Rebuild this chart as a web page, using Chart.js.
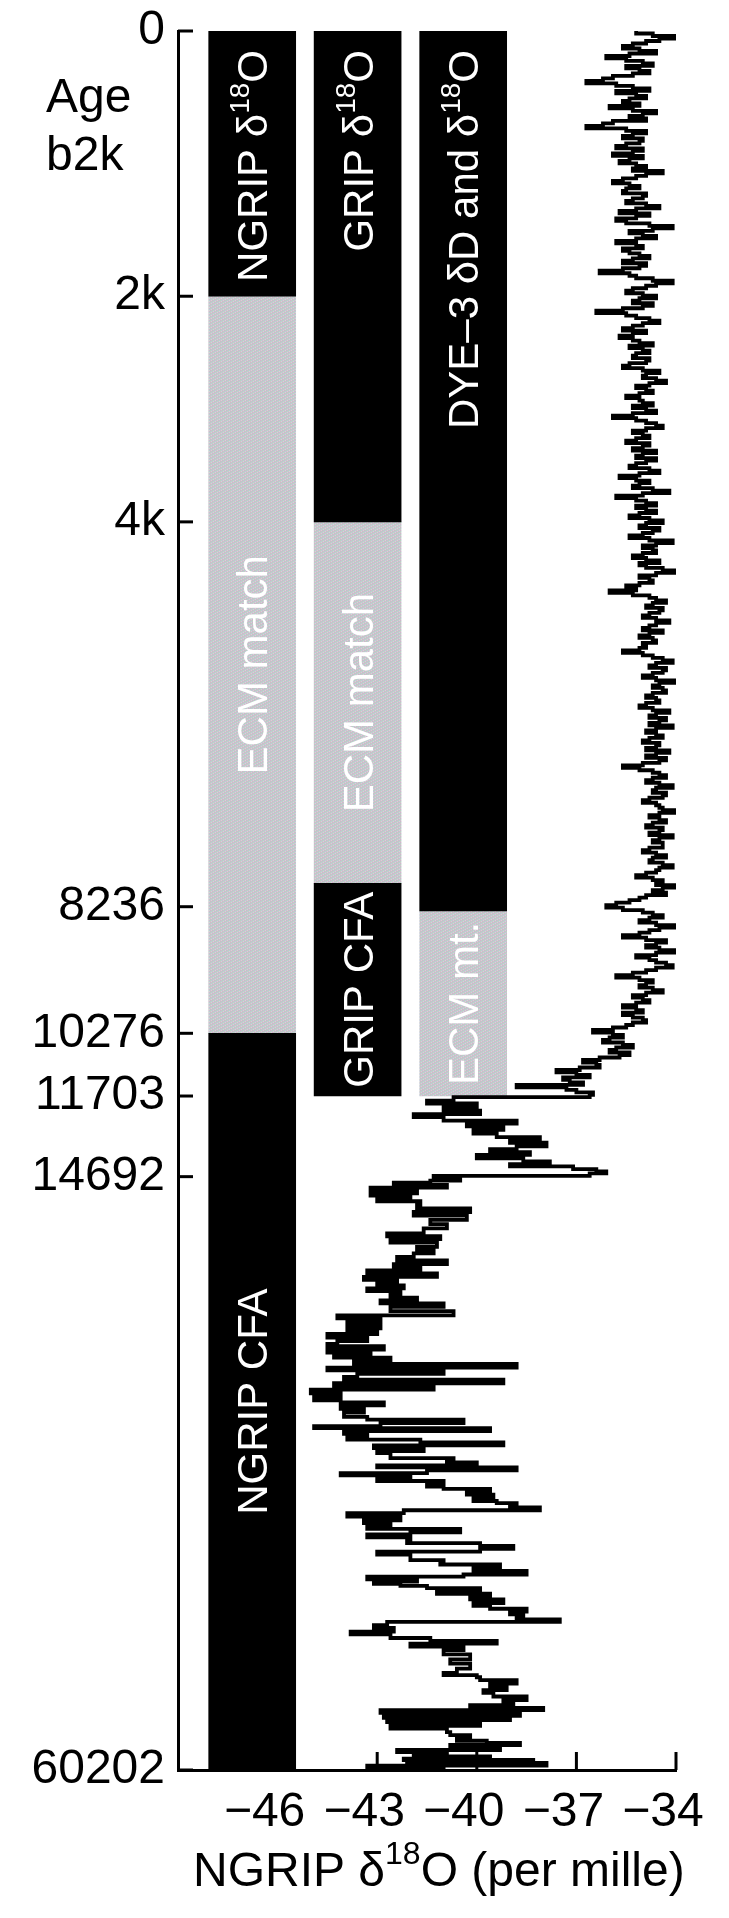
<!DOCTYPE html>
<html><head><meta charset="utf-8">
<script src="https://cdn.jsdelivr.net/npm/chart.js@4.4.1/dist/chart.umd.min.js"></script>
<style>html,body{margin:0;padding:0;background:#fff;}#wrap{width:729px;height:1918px;position:relative;}</style>
</head><body><div id="wrap"><canvas id="c"></canvas></div>
<script>
// ---------- DATA ----------
// Age tick labels (years b2k) and the NGRIP depth (m) where each sits on the depth axis
const ageTickLabels = ['0','2k','4k','8236','10276','11703','14692','60202'];
const ageTickDepths = [0, 371.7, 687.9, 1227.2, 1404.6, 1492.5, 1605.5, 2437];
const xTickValues = [-46, -43, -40, -37, -34];
const xTickLabels = ['\u221246','\u221243','\u221240','\u221237','\u221234'];

// Core columns
const coreNames = ['NGRIP','GRIP','DYE-3'];
const coreX = [-46.765, -43.59, -40.41];
// Column segments (depth ranges, m)
const segCore   = [0, 0, 0, 1, 1, 1, 2, 2];
const segTop    = [0, 371.7, 1404.6, 0, 687.9, 1194.5, 0, 1233];
const segBottom = [371.7, 1404.6, 2437, 687.9, 1194.5, 1492.5, 1233, 1492.5];
const segKind   = ['core','ecm','core','core','ecm','core','core','ecm'];
const segText   = ['NGRIP \u03b4^{18}O','ECM match','NGRIP CFA','GRIP \u03b4^{18}O','ECM match','GRIP CFA','DYE\u20133 \u03b4D and \u03b4^{18}O','ECM mt.'];
const segAnchor = ['top','center','center','top','center','center','top','center'];

// NGRIP d18O trace: Holocene part (samples on whole 7 m marks)
const holoDepth = [0,7,14,21,28,35,42,49,56,63,
70,77,84,91,98,105,112,119,126,133,
140,147,154,161,168,175,182,189,196,203,
210,217,224,231,238,245,252,259,266,273,
280,287,294,301,308,315,322,329,336,343,
350,357,364,371,378,385,392,399,406,413,
420,427,434,441,448,455,462,469,476,483,
490,497,504,511,518,525,532,539,546,553,
560,567,574,581,588,595,602,609,616,623,
630,637,644,651,658,665,672,679,686,693,
700,707,714,721,728,735,742,749,756,763,
770,777,784,791,798,805,812,819,826,833,
840,847,854,861,868,875,882,889,896,903,
910,917,924,931,938,945,952,959,966,973,
980,987,994,1001,1008,1015,1022,1029,1036,1043,
1050,1057,1064,1071,1078,1085,1092,1099,1106,1113,
1120,1127,1134,1141,1148,1155,1162,1169,1176,1183,
1190,1197,1204,1211,1218,1225,1232,1239,1246,1253,
1260,1267,1274,1281,1288,1295,1302,1309,1316,1323,
1330,1337,1344,1351,1358,1365,1372,1379,1386,1393,
1400,1407,1414,1421,1428,1435,1442,1449,1456,1463,
1470,1477,1484,1491];
const holoD18O = [-35.2,-34.0,-34.9,-35.6,-34.6,-36.1,-35.0,-35.5,-34.8,-35.9,
-36.7,-35.3,-35.8,-34.9,-35.6,-36.0,-34.6,-35.4,-35.9,-36.7,
-34.9,-35.6,-35.1,-35.8,-35.3,-35.0,-35.7,-34.9,-34.4,-35.2,
-35.9,-35.1,-35.6,-35.0,-35.5,-34.5,-35.7,-35.2,-35.5,-34.1,
-35.4,-34.6,-35.8,-35.0,-35.4,-34.8,-35.6,-35.1,-36.3,-35.2,
-34.1,-34.9,-35.5,-34.6,-35.3,-35.0,-36.4,-35.2,-34.5,-35.3,
-34.9,-35.7,-35.1,-35.4,-34.8,-35.3,-34.9,-35.6,-34.5,-35.0,
-34.3,-35.2,-34.7,-35.5,-35.0,-35.3,-34.6,-35.9,-34.9,-34.4,
-35.3,-34.8,-35.5,-35.0,-34.6,-35.2,-34.9,-35.4,-34.5,-35.7,
-34.8,-35.3,-34.2,-35.8,-34.9,-35.2,-34.6,-35.4,-34.4,-35.1,
-34.7,-35.4,-34.1,-35.0,-34.6,-35.3,-34.5,-34.9,-34.0,-35.1,
-34.7,-35.5,-36.0,-34.8,-34.3,-34.9,-34.5,-35.0,-34.2,-34.8,
-34.4,-35.1,-34.6,-34.9,-35.6,-34.7,-34.1,-34.8,-34.4,-35.0,
-34.0,-34.7,-34.3,-34.9,-34.5,-35.1,-34.2,-34.8,-34.5,-34.1,
-34.9,-34.4,-35.0,-34.6,-34.2,-34.9,-34.5,-35.6,-34.7,-34.3,
-34.9,-34.1,-34.7,-34.4,-35.0,-34.5,-34.0,-34.8,-34.3,-34.9,
-34.5,-34.1,-34.7,-34.4,-35.0,-34.3,-34.8,-34.1,-34.6,-35.2,
-34.4,-34.0,-34.7,-34.9,-35.4,-36.1,-35.0,-34.4,-35.1,-34.0,
-34.8,-35.6,-34.3,-34.9,-34.0,-35.2,-34.6,-34.1,-34.9,-35.8,
-34.7,-35.1,-34.4,-35.3,-34.8,-35.6,-35.0,-35.3,-34.9,-35.5,
-36.5,-35.6,-36.2,-35.3,-36.0,-35.7,-36.8,-36.3,-37.6,-36.6,
-37.2,-38.8,-37.0,-36.6];
// Holocene part (samples on the half-way 3.5 m marks)
const holoMidDepth = [3.5,10.5,17.5,24.5,31.5,38.5,45.5,52.5,59.5,66.5,
73.5,80.5,87.5,94.5,101.5,108.5,115.5,122.5,129.5,136.5,
143.5,150.5,157.5,164.5,171.5,178.5,185.5,192.5,199.5,206.5,
213.5,220.5,227.5,234.5,241.5,248.5,255.5,262.5,269.5,276.5,
283.5,290.5,297.5,304.5,311.5,318.5,325.5,332.5,339.5,346.5,
353.5,360.5,367.5,374.5,381.5,388.5,395.5,402.5,409.5,416.5,
423.5,430.5,437.5,444.5,451.5,458.5,465.5,472.5,479.5,486.5,
493.5,500.5,507.5,514.5,521.5,528.5,535.5,542.5,549.5,556.5,
563.5,570.5,577.5,584.5,591.5,598.5,605.5,612.5,619.5,626.5,
633.5,640.5,647.5,654.5,661.5,668.5,675.5,682.5,689.5,696.5,
703.5,710.5,717.5,724.5,731.5,738.5,745.5,752.5,759.5,766.5,
773.5,780.5,787.5,794.5,801.5,808.5,815.5,822.5,829.5,836.5,
843.5,850.5,857.5,864.5,871.5,878.5,885.5,892.5,899.5,906.5,
913.5,920.5,927.5,934.5,941.5,948.5,955.5,962.5,969.5,976.5,
983.5,990.5,997.5,1004.5,1011.5,1018.5,1025.5,1032.5,1039.5,1046.5,
1053.5,1060.5,1067.5,1074.5,1081.5,1088.5,1095.5,1102.5,1109.5,1116.5,
1123.5,1130.5,1137.5,1144.5,1151.5,1158.5,1165.5,1172.5,1179.5,1186.5,
1193.5,1200.5,1207.5,1214.5,1221.5,1228.5,1235.5,1242.5,1249.5,1256.5,
1263.5,1270.5,1277.5,1284.5,1291.5,1298.5,1305.5,1312.5,1319.5,1326.5,
1333.5,1340.5,1347.5,1354.5,1361.5,1368.5,1375.5,1382.5,1389.5,1396.5,
1403.5,1410.5,1417.5,1424.5,1431.5,1438.5,1445.5,1452.5,1459.5,1466.5,
1473.5,1480.5,1487.5];
const holoMidD18O = [-34.7,-34.5,-35.3,-35.1,-35.4,-35.5,-34.7,-35.1,-35.3,-36.2,
-35.8,-34.8,-35.2,-35.4,-35.1,-35.3,-35.0,-34.9,-36.2,-35.5,
-35.3,-35.0,-35.5,-35.0,-35.9,-35.4,-35.2,-35.3,-34.9,-35.6,
-35.4,-35.5,-34.9,-35.3,-34.9,-35.2,-34.8,-35.8,-34.8,-34.7,
-35.0,-35.2,-35.2,-35.6,-35.1,-35.3,-34.9,-35.6,-35.4,-34.7,
-34.6,-35.3,-35.0,-35.1,-34.7,-35.6,-35.5,-34.8,-35.0,-35.6,
-35.3,-35.3,-34.7,-35.0,-35.2,-34.8,-35.4,-35.0,-34.9,-34.6,
-34.8,-34.9,-35.1,-35.1,-34.7,-34.9,-35.3,-35.2,-34.6,-34.9,
-35.0,-35.2,-34.8,-35.3,-35.0,-34.6,-35.2,-34.8,-35.1,-35.2,
-35.1,-34.7,-35.0,-35.2,-34.6,-34.9,-35.1,-34.8,-34.9,-34.5,
-35.0,-34.8,-34.6,-34.7,-35.0,-34.9,-35.1,-34.4,-34.6,-34.8,
-35.1,-35.2,-35.3,-34.6,-34.7,-34.4,-34.8,-34.6,-34.6,-35.0,
-34.8,-34.7,-35.0,-35.1,-35.0,-34.4,-34.6,-34.3,-34.7,-34.6,
-34.5,-34.4,-34.7,-34.6,-34.9,-34.7,-34.6,-34.3,-34.8,-34.6,
-34.6,-34.8,-34.5,-34.9,-34.6,-34.3,-35.0,-35.1,-34.5,-34.7,
-34.5,-34.6,-34.3,-34.8,-34.6,-34.4,-34.5,-34.5,-34.7,-34.4,
-34.8,-34.5,-34.4,-34.8,-34.6,-34.7,-34.4,-34.5,-34.9,-34.7,
-34.6,-34.4,-34.3,-35.1,-35.8,-35.6,-34.7,-34.8,-34.6,-34.5,
-35.1,-34.9,-34.6,-34.5,-34.6,-34.8,-34.3,-34.6,-35.3,-35.1,
-34.9,-34.7,-34.9,-35.0,-35.2,-35.2,-35.6,-35.0,-35.3,-35.9,
-35.9,-36.0,-35.6,-35.8,-35.4,-36.3,-36.4,-36.9,-37.0,-37.4,
-36.8,-37.3,-36.5];

// NGRIP d18O trace: Late glacial and glacial part
const glacDepth = [1494,1499,1503,1508,1513,1518,1522,1527,1531,1535,
1540,1545,1550,1554,1558,1563,1567,1571,1575,1580,
1584,1588,1591,1595,1598,1601,1604.5,1607,1611,1614,
1617,1621,1625,1629,1632,1636,1640,1645,1650,1655,
1660,1666,1672,1678,1685,1689,1693,1698,1704,1709,
1713,1718,1723,1728,1732,1737,1741,1746,1750,1754,
1758,1762,1766,1771,1775,1779,1783,1788,1794,1800,
1804,1808,1813,1818,1822,1826,1831,1836,1840,1843,
1848,1852,1855,1859,1864,1868,1873,1877,1882,1886,
1890,1895,1899,1904,1909,1914,1919,1922,1926,1931,
1936,1942,1946,1951,1955,1958,1962,1966,1970,1974,
1978,1982,1986,1990,1993,1996,2000,2003,2006,2010,
2013,2017,2021,2024,2028,2032,2036,2040,2043,2047,
2051,2056,2060,2063,2066,2069,2073,2077,2082,2087,
2091,2095,2099,2104,2107,2111,2115,2119,2123,2127,
2131,2135,2139,2143,2146,2149,2153,2158,2163,2166,
2170,2173,2176,2179,2182,2186,2190,2194,2198,2203,
2207,2211,2215,2219,2222,2226,2229.5,2234,2238,2243,
2247,2252,2256,2260,2264,2269,2275,2282,2288,2295,
2301,2304,2307,2311,2316,2320,2325,2329,2334,2339,
2343,2346,2350,2353,2357,2361,2364,2367,2370,2375,
2379,2384,2388,2392,2396,2399,2402,2405,2409,2412,
2415,2418,2421,2423,2425,2427,2431,2434,2437];
const glacD18O = [-40.7,-41.5,-40.0,-41.0,-39.9,-41.9,-41.0,-38.8,-40.3,-39.2,
-40.1,-39.4,-38.1,-39.0,-37.9,-38.8,-39.6,-38.4,-40.0,-38.6,
-37.8,-39.0,-37.1,-36.4,-36.1,-36.6,-41.3,-40.5,-41.4,-42.5,
-40.9,-43.2,-41.8,-43.2,-42.0,-43.0,-41.7,-41.8,-40.2,-41.9,
-40.3,-41.4,-40.9,-41.6,-42.7,-41.1,-42.6,-41.2,-41.8,-41.3,
-41.9,-42.4,-40.9,-42.5,-41.7,-43.3,-41.2,-43.4,-42.4,-43.0,
-42.2,-43.3,-42.3,-42.6,-41.8,-42.9,-41.0,-42.6,-40.7,-44.2,
-42.9,-43.9,-42.9,-43.9,-43.0,-44.5,-43.3,-44.2,-44.5,-42.8,
-44.5,-43.2,-44.3,-42.6,-43.7,-38.8,-44.5,-41.0,-43.6,-44.0,
-39.2,-44.3,-41.3,-45.0,-44.1,-44.9,-44.1,-42.8,-44.1,-43.4,
-44.0,-43.3,-40.4,-42.9,-44.9,-39.6,-44.0,-43.3,-43.9,-41.7,
-39.2,-43.1,-41.6,-43.0,-42.6,-42.6,-40.7,-40.9,-40.0,-43.0,
-38.8,-41.5,-44.1,-42.0,-43.0,-41.0,-41.5,-41.0,-39.6,-40.3,
-39.5,-40.1,-39.4,-38.8,-39.0,-38.1,-42.2,-43.9,-42.3,-43.4,
-42.6,-43.3,-40.5,-42.0,-43.3,-42.0,-42.1,-39.9,-38.9,-39.9,
-43.0,-42.0,-42.0,-41.0,-41.1,-39.3,-40.1,-38.5,-40.4,-43.3,
-41.8,-43.1,-42.3,-41.5,-39.9,-41.2,-39.6,-40.2,-39.2,-40.1,
-39.6,-38.5,-39.0,-38.6,-38.8,-37.5,-42.7,-43.1,-42.5,-43.8,
-42.6,-41.4,-39.4,-42.0,-40.4,-41.0,-40.2,-40.8,-40.2,-40.6,
-41.0,-40.0,-39.9,-38.8,-39.6,-39.1,-39.8,-39.5,-38.5,-39.2,
-38.9,-40.2,-38.0,-42.9,-38.7,-42.8,-39.0,-42.7,-39.9,-42.6,
-40.9,-40.8,-40.2,-40.6,-39.7,-38.7,-40.8,-39.3,-42.4,-40.9,
-41.9,-39.6,-42.2,-38.3,-42.1,-37.9,-43.3,-41.0,-41.0];

// ---------- RENDER ----------
const FONT = '"Liberation Sans", Arial, Helvetica, sans-serif';
const canvas = document.getElementById('c');
const ctx0 = canvas.getContext('2d');

function makeEcmPattern() {
  const t = document.createElement('canvas'); t.width = 6; t.height = 6;
  const g = t.getContext('2d');
  const cols = ['#c9c9c9','#d5d5d5','#d2afd2','#c6c6c6','#b9d5be','#bcc6dc'];
  for (let yy = 0; yy < 6; yy++) for (let xx = 0; xx < 6; xx++) {
    g.fillStyle = cols[(xx + 2 * yy) % 6]; g.fillRect(xx, yy, 1, 1);
  }
  return ctx0.createPattern(t, 'repeat');
}
const ecmPattern = makeEcmPattern();

const trace = [];
holoDepth.forEach((d, i) => trace.push({x: holoD18O[i], y: d}));
holoMidDepth.forEach((d, i) => trace.push({x: holoMidD18O[i], y: d}));
glacDepth.forEach((d, i) => trace.push({x: glacD18O[i], y: d}));
trace.sort((a, b) => a.y - b.y);

const coreBars = [], ecmBars = [];
segKind.forEach((k, i) => {
  const p = {x: coreX[segCore[i]], y: [segTop[i], segBottom[i]]};
  (k === 'core' ? coreBars : ecmBars).push(p);
});

function parseRich(s) {
  const parts = []; const re = /\^\{([^}]*)\}/g; let last = 0, m;
  while ((m = re.exec(s))) {
    if (m.index > last) parts.push({t: s.slice(last, m.index), sup: false});
    parts.push({t: m[1], sup: true}); last = re.lastIndex;
  }
  if (last < s.length) parts.push({t: s.slice(last), sup: false});
  return parts;
}
function richWidth(ctx, parts, size, supSize) {
  let w = 0;
  for (const p of parts) { ctx.font = (p.sup ? supSize : size) + 'px ' + FONT; w += ctx.measureText(p.t).width; }
  return w;
}
function drawRich(ctx, parts, x, y, size, supSize, raise) {
  let cx = x; ctx.textBaseline = 'alphabetic'; ctx.textAlign = 'left';
  for (const p of parts) {
    ctx.font = (p.sup ? supSize : size) + 'px ' + FONT;
    ctx.fillText(p.t, cx, p.sup ? y - raise : y);
    cx += ctx.measureText(p.t).width;
  }
}

const decorPlugin = {
  id: 'decor',
  afterDraw(chart) {
    const {ctx, chartArea: ca, scales: {x, y}} = chart;
    ctx.save();
    // inward tick marks
    ctx.strokeStyle = '#000'; ctx.lineWidth = 3; ctx.lineCap = 'butt';
    y.ticks.forEach(t => {
      const py = y.getPixelForValue(t.value);
      ctx.beginPath(); ctx.moveTo(ca.left, py); ctx.lineTo(ca.left + 15, py); ctx.stroke();
    });
    x.ticks.forEach(t => {
      const px = x.getPixelForValue(t.value);
      ctx.beginPath(); ctx.moveTo(px, ca.bottom); ctx.lineTo(px, ca.bottom - 18); ctx.stroke();
    });
    // column labels (rotated, white)
    ctx.fillStyle = '#fff';
    const size = 42, sup = 28, raise = 18, capH = 0.716 * size;
    segText.forEach((txt, i) => {
      const parts = parseRich(txt);
      const w = richWidth(ctx, parts, size, sup);
      const cx = x.getPixelForValue(coreX[segCore[i]]);
      const top = y.getPixelForValue(segTop[i]);
      const bot = y.getPixelForValue(segBottom[i]);
      ctx.save();
      if (segAnchor[i] === 'top') {
        ctx.translate(cx, top + 19); ctx.rotate(-Math.PI / 2);
        drawRich(ctx, parts, -w, capH / 2, size, sup, raise);
      } else {
        ctx.translate(cx, (top + bot) / 2); ctx.rotate(-Math.PI / 2);
        drawRich(ctx, parts, -w / 2, capH / 2, size, sup, raise);
      }
      ctx.restore();
    });
    // axis titles
    ctx.fillStyle = '#000';
    drawRich(ctx, parseRich('NGRIP \u03b4^{18}O (per mille)'), ca.left + 15, ca.bottom + 116, 48, 32, 22);
    ctx.font = '48px ' + FONT; ctx.textAlign = 'left'; ctx.textBaseline = 'alphabetic';
    ctx.fillText('Age', 46, ca.top + 81);
    ctx.fillText('b2k', 46, ca.top + 139);
    ctx.restore();
  }
};

new Chart(canvas, {
  type: 'line',
  data: {
    datasets: [
      {type: 'line', data: trace, borderColor: '#000', borderWidth: 3.8, pointRadius: 0,
       stepped: 'after', fill: false, tension: 0, borderJoinStyle: 'miter', borderCapStyle: 'butt'},
      {type: 'bar', data: coreBars, backgroundColor: '#000', borderWidth: 0, barThickness: 87, grouped: false},
      {type: 'bar', data: ecmBars, backgroundColor: ecmPattern, borderWidth: 0, barThickness: 87, grouped: false}
    ]
  },
  options: {
    responsive: true, maintainAspectRatio: false, animation: false, events: [],
    layout: {padding: {top: 31, right: 53, left: 0, bottom: 0}},
    plugins: {legend: {display: false}, tooltip: {enabled: false}},
    scales: {
      x: {type: 'linear', min: -49, max: -34, offset: false, position: 'bottom',
          afterBuildTicks: s => { s.ticks = xTickValues.map(v => ({value: v})); },
          afterFit: s => { s.height = 148; s.paddingLeft = 0; s.paddingRight = 0; },
          grid: {display: false, drawTicks: false},
          border: {display: true, color: '#000', width: 3},
          ticks: {autoSkip: false, maxRotation: 0, color: '#000', font: {size: 48, family: FONT},
                  padding: 14, labelOffset: -13, callback: (v, i) => xTickLabels[i]}},
      y: {type: 'linear', reverse: true, min: 0, max: 2437,
          afterBuildTicks: s => { s.ticks = ageTickDepths.map(v => ({value: v})); },
          afterFit: s => { s.width = 178; s.paddingTop = 0; s.paddingBottom = 0; },
          grid: {display: false, drawTicks: false},
          border: {display: true, color: '#000', width: 3},
          ticks: {autoSkip: false, color: '#000', font: {size: 48, family: FONT},
                  padding: 13, callback: (v, i) => ageTickLabels[i]}}
    }
  },
  plugins: [decorPlugin]
});
</script></body></html>
